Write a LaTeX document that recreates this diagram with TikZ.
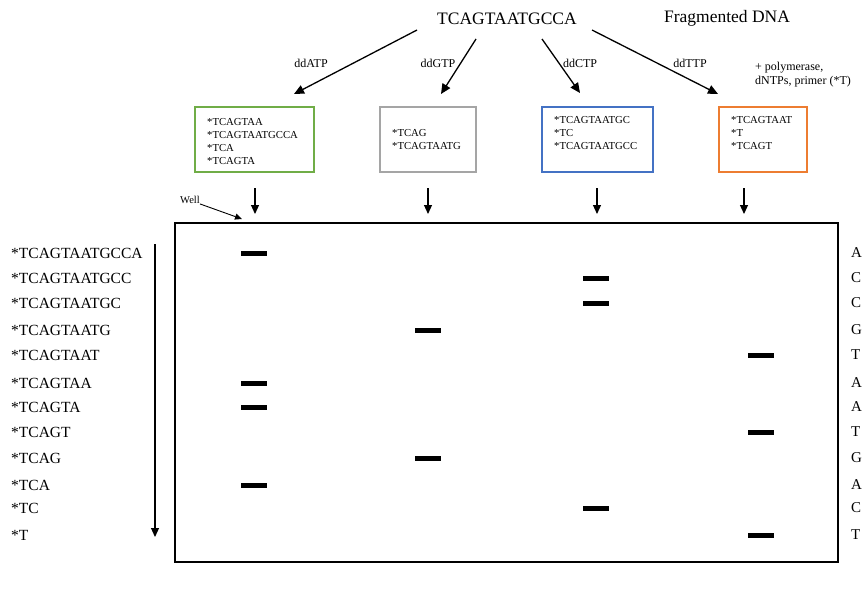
\documentclass[tikz,border=0pt]{standalone}
\usepackage{fontspec}
\setmainfont{Liberation Serif}
\usetikzlibrary{arrows.meta}

\definecolor{tubegreen}{RGB}{112,173,71}
\definecolor{tubegray}{RGB}{165,165,165}
\definecolor{tubeblue}{RGB}{68,114,196}
\definecolor{tubeorange}{RGB}{237,125,49}

\begin{document}
\begin{tikzpicture}[x=1pt,y=-1pt,
  title/.style={font=\fontsize{17.5}{21}\selectfont, inner sep=0},
  ddlab/.style={font=\fontsize{12}{14}\selectfont, inner sep=0},
  note/.style={font=\fontsize{12}{14}\selectfont, inner sep=0, align=left, anchor=west},
  tube/.style={draw, line width=1.3pt, minimum height=65pt, inner sep=0},
  tubetxt/.style={font=\fontsize{10.7}{13}\selectfont, inner sep=0, align=left, anchor=west},
  frag/.style={font=\fontsize{15.5}{18}\selectfont, inner sep=0, anchor=west},
  base/.style={font=\fontsize{15}{18}\selectfont, inner sep=0, anchor=west},
  arr/.style={line width=1.3pt, -{Triangle[length=10pt,width=9pt]}},
  dnarr/.style={line width=1.1pt, -{Triangle[length=9pt,width=8pt]}},
  band/.style={fill=black},
]
\useasboundingbox (0,0) rectangle (866,595);

% source strand and heading
\node[title] (src) at (507,19) {TCAGTAATGCCA};
\node[title] (head) at (727,18) {Fragmented DNA};
\node[note] (mix) at (755,75) {+ polymerase,\\dNTPs, primer (*T)};

% reaction tubes
\node[tube, draw=tubegreen,  minimum width=119pt] (tA) at (254.5,139.5) {};
\node[tube, draw=tubegray,   minimum width=96pt]  (tG) at (428,139.5) {};
\node[tube, draw=tubeblue,   minimum width=111pt] (tC) at (597.5,139.5) {};
\node[tube, draw=tubeorange, minimum width=88pt]  (tT) at (763,139.5) {};

\node[tubetxt] (xA) at (207,141.5) {*TCAGTAA\\*TCAGTAATGCCA\\*TCA\\*TCAGTA};
\node[tubetxt] (xG) at (392,140) {*TCAG\\*TCAGTAATG};
\node[tubetxt] (xC) at (554,133) {*TCAGTAATGC\\*TC\\*TCAGTAATGCC};
\node[tubetxt] (xT) at (731,133) {*TCAGTAAT\\*T\\*TCAGT};

% split into the four reactions
\coordinate (sA) at (417,30); \coordinate (eA) at (294,94);
\coordinate (sG) at (476,39); \coordinate (eG) at (441,94);
\coordinate (sC) at (542,39); \coordinate (eC) at (580,93);
\coordinate (sT) at (592,30); \coordinate (eT) at (718,94);
\draw[arr] (sA) -- (eA);
\draw[arr] (sG) -- (eG);
\draw[arr] (sC) -- (eC);
\draw[arr] (sT) -- (eT);
\node[ddlab] (lA) at (311,63) {ddATP};
\node[ddlab] (lG) at (438,63) {ddGTP};
\node[ddlab] (lC) at (580,63) {ddCTP};
\node[ddlab] (lT) at (690,63) {ddTTP};

% gel
\node[draw, line width=1.6pt, minimum width=663pt, minimum height=339pt, inner sep=0] (gel) at (506.5,392.5) {};

% loading arrows
\foreach \n/\x in {A/255, G/428, C/597, T/744} {
  \coordinate (d\n) at (\x,188);
  \coordinate (w\n) at (\x,214);
  \draw[dnarr] (d\n) -- (w\n);
}

% well label
\node[font=\fontsize{10.5}{12}\selectfont, inner sep=0] (well) at (190,200) {Well};
\coordinate (wellpt) at (242,219);
\draw[line width=0.9pt, -{Triangle[length=7pt,width=6pt]}] (well.south east) -- (wellpt);

% fragment sizes down the side
\foreach \t/\y [count=\i] in {*TCAGTAATGCCA/253, *TCAGTAATGCC/278, *TCAGTAATGC/303,
  *TCAGTAATG/330, *TCAGTAAT/355, *TCAGTAA/383, *TCAGTA/407, *TCAGT/432,
  *TCAG/458, *TCA/485, *TC/508, *T/535}
  \node[frag] (f\i) at (11,\y) {\t};

% read-out bases
\foreach \t/\y [count=\i] in {A/253, C/278, C/303, G/330, T/355, A/383,
  A/407, T/432, G/458, A/485, C/508, T/535}
  \node[base] (b\i) at (851,\y) {\t};

% migration direction
\coordinate (mtop) at (155,244);
\coordinate (mbot) at (155,537);
\draw[dnarr] (mtop) -- (mbot);

% bands
\foreach \x/\y in {254/253, 254/383, 254/407, 254/485,
                   428/330, 428/458,
                   596/278, 596/303, 596/508,
                   761/355, 761/432, 761/535}
  \fill[band] (\x-13,\y-2.5) rectangle (\x+13,\y+2.5);

\end{tikzpicture}
\end{document}
